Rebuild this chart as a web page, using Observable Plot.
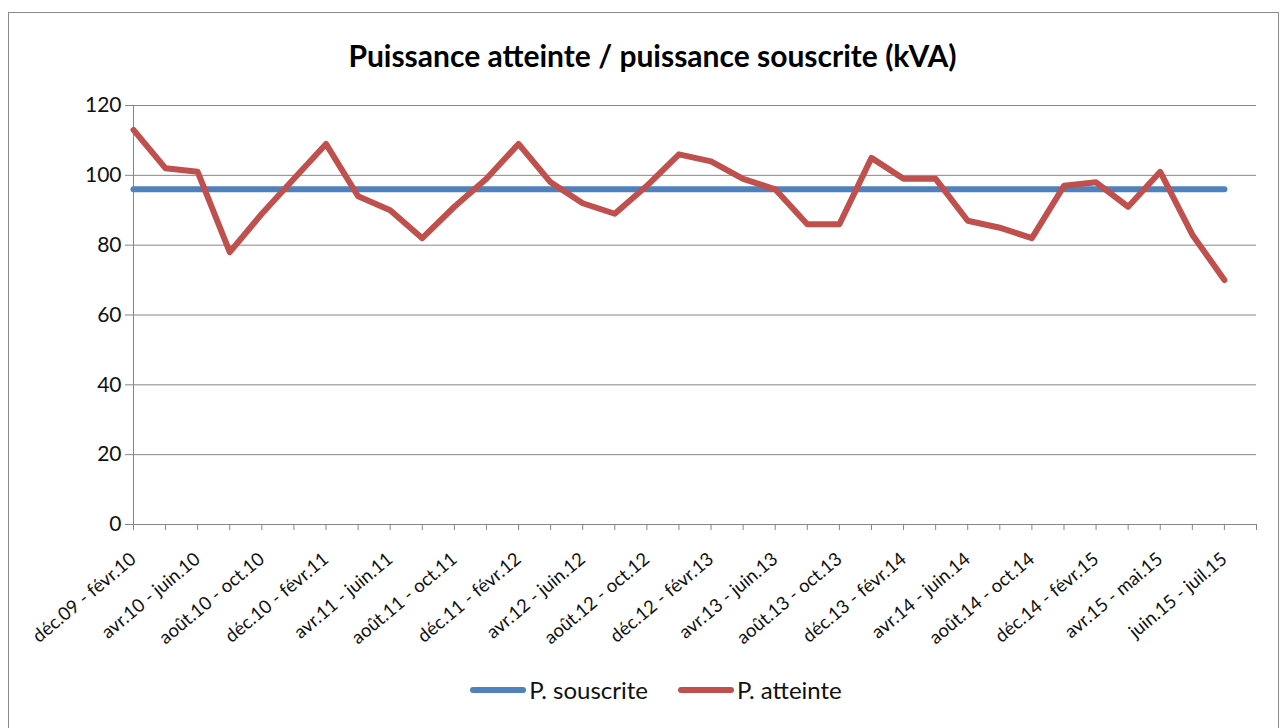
<!DOCTYPE html>
<html>
<head>
<meta charset="utf-8">
<script src="https://cdn.jsdelivr.net/npm/d3@7"></script>
<script src="https://cdn.jsdelivr.net/npm/@observablehq/plot@0.6"></script>
<style>
  html, body { margin: 0; padding: 0; background: #fff; }
  body { width: 1282px; height: 728px; position: relative; overflow: hidden; font-family: Lato, "Open Sans", sans-serif; }
  #frame { position: absolute; left: 8px; top: 12px; width: 1271px; height: 740px; border: 1px solid #8a8a8a; box-sizing: border-box; }
  #title { position: absolute; left: 0; top: 39px; width: 1305px; text-align: center; font-weight: bold; font-size: 30px; line-height: 32px; color: #000; }
  #chart { position: absolute; left: 0; top: 80px; }
  #legend { position: absolute; left: 0; top: 675px; width: 1312px; display: flex; justify-content: center; align-items: center; font-size: 24px; color: #111; }
  .item { display: flex; align-items: center; margin: 0 15px; }
  .sw { width: 56px; height: 6px; border-radius: 3px; margin-right: 3px; }
</style>
</head>
<body>
<div id="frame"></div>
<div id="title">Puissance atteinte / puissance souscrite (kVA)</div>
<div id="chart"></div>
<div id="legend"></div>
<script>
const title = "Puissance atteinte / puissance souscrite (kVA)";
const xLabels = ["déc.09 - févr.10","avr.10 - juin.10","août.10 - oct.10","déc.10 - févr.11","avr.11 - juin.11","août.11 - oct.11","déc.11 - févr.12","avr.12 - juin.12","août.12 - oct.12","déc.12 - févr.13","avr.13 - juin.13","août.13 - oct.13","déc.13 - févr.14","avr.14 - juin.14","août.14 - oct.14","déc.14 - févr.15","avr.15 - mai.15","juin.15 - juil.15"];
const atteinte = [113,102,101,78,89,99,109,94,90,82,91,99,109,98,92,89,97,106,104,99,96,86,86,105,99,99,87,85,82,97,98,91,101,83,70];
const souscrite = [96,96,96,96,96,96,96,96,96,96,96,96,96,96,96,96,96,96,96,96,96,96,96,96,96,96,96,96,96,96,96,96,96,96,96];
const yTicks = [0,20,40,60,80,100,120];
const nCategories = 36;
const series = [
  {name: "P. souscrite", color: "#4F81BD", values: souscrite},
  {name: "P. atteinte", color: "#C0504D", values: atteinte}
];

const rows = [];
series.forEach(s => s.values.forEach((v, i) => rows.push({i, v, name: s.name})));
const tickIdx = d3.range(nCategories);
const labelIdx = xLabels.map((_, k) => k * 2);

const chart = Plot.plot({
  width: 1282,
  height: 560,
  marginLeft: 133,
  marginRight: 26,
  marginTop: 25,
  marginBottom: 116,
  style: {fontFamily: "Lato, 'Open Sans', sans-serif", color: "#000", background: "transparent", overflow: "visible"},
  x: {type: "linear", domain: [0, nCategories - 1]},
  y: {domain: [0, 120]},
  color: {domain: series.map(s => s.name), range: series.map(s => s.color)},
  marks: [
    Plot.gridY(yTicks, {stroke: "#868686", strokeOpacity: 1, strokeWidth: 1}),
    Plot.axisY(yTicks, {tickSize: 8, stroke: "#868686", fontSize: 21, tickPadding: 4, label: null, color: "#111"}),
    Plot.ruleX([0], {stroke: "#868686"}),
    Plot.ruleY([0], {stroke: "#868686"}),
    Plot.axisX(tickIdx, {tickSize: 6, stroke: "#868686", tickFormat: () => "", label: null}),
    Plot.axisX(labelIdx, {tickSize: 0, tickPadding: 32, tickRotate: -40, fontSize: 18.5, tickFormat: i => xLabels[i / 2], label: null, color: "#111"}),
    Plot.line(rows, {x: "i", y: "v", z: "name", stroke: "name", strokeWidth: 6, strokeLinecap: "round", strokeLinejoin: "round"})
  ]
});
document.getElementById("chart").appendChild(chart);

const legend = document.getElementById("legend");
series.forEach(s => {
  const it = document.createElement("div");
  it.className = "item";
  const sw = document.createElement("div");
  sw.className = "sw";
  sw.style.background = s.color;
  const tx = document.createElement("span");
  tx.textContent = s.name;
  it.appendChild(sw);
  it.appendChild(tx);
  legend.appendChild(it);
});
</script>
</body>
</html>
